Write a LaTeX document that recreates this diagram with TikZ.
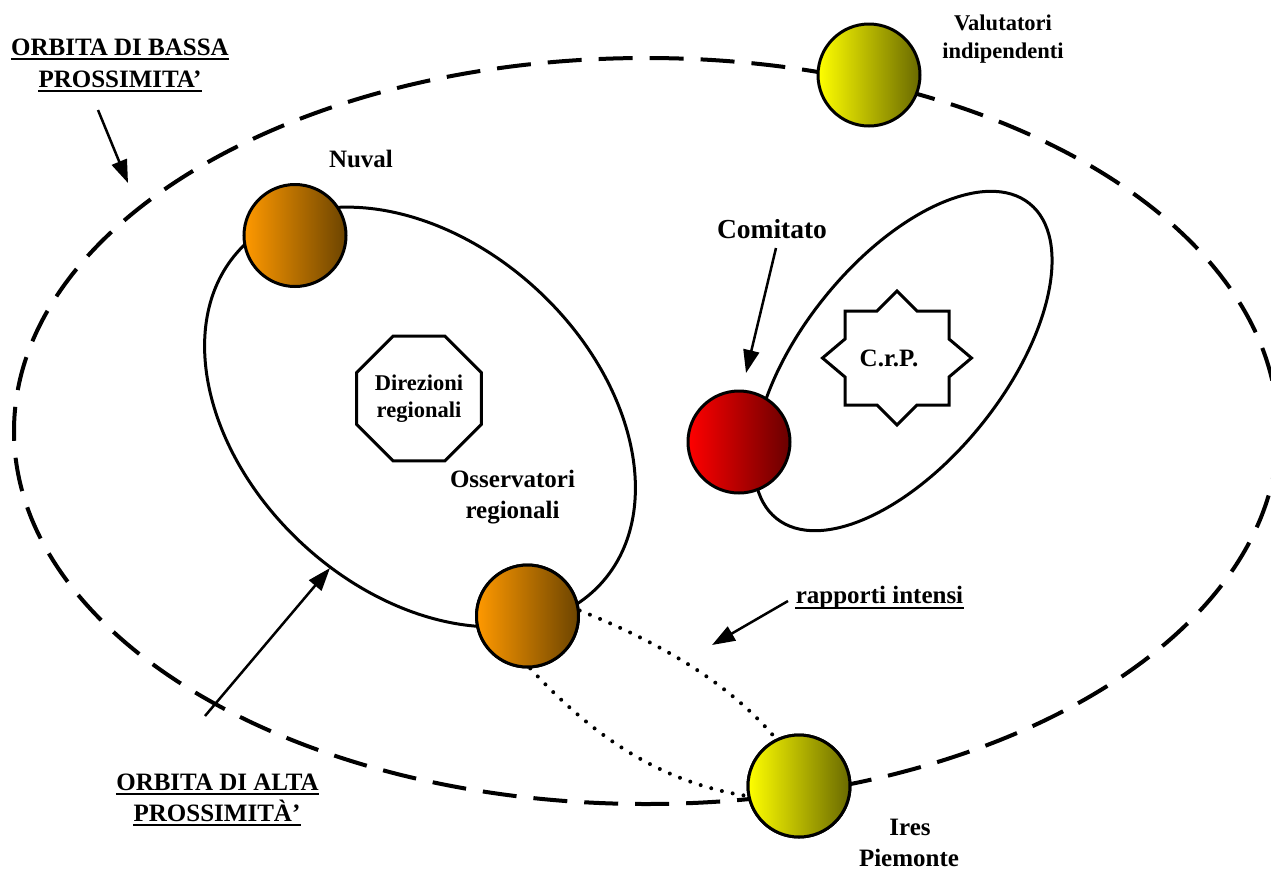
\documentclass[tikz,border=0pt]{standalone}
\usepackage{fontspec}
\setmainfont{Liberation Serif}
\usetikzlibrary{arrows.meta,shapes.geometric}
\definecolor{orL}{RGB}{255,153,0}
\definecolor{orR}{RGB}{108,68,0}
\definecolor{rdL}{RGB}{255,0,0}
\definecolor{rdR}{RGB}{105,0,0}
\definecolor{yeL}{RGB}{255,255,0}
\definecolor{yeR}{RGB}{105,105,0}
\begin{document}
\begin{tikzpicture}[x=0.5pt,y=-0.5pt,
  lbl/.style={font=\bfseries\fontsize{12.5}{15}\selectfont, inner sep=0pt, anchor=base},
  biglbl/.style={font=\bfseries\fontsize{13.75}{16}\selectfont, inner sep=0pt, anchor=base},
  slbl/.style={font=\bfseries\fontsize{11.25}{13.5}\selectfont, inner sep=0pt, anchor=base},
  orbitlow/.style={line width=2pt, dash pattern=on 17pt off 8.5pt},
  orbithigh/.style={line width=1.5pt},
  ball/.style={circle, draw, line width=1.5pt, minimum size=51pt, inner sep=0pt},
  orangeball/.style={ball, left color=orL, right color=orR},
  redball/.style={ball, left color=rdL, right color=rdR},
  yellowball/.style={ball, left color=yeL, right color=yeR},
  octa/.style={draw, line width=1.5pt, regular polygon, regular polygon sides=8, minimum size=61pt, inner sep=0pt, align=center, font=\bfseries\fontsize{11.25}{13.5}\selectfont},
  starline/.style={line width=1.5pt, line join=miter},
  ptr/.style={line width=1.25pt, -{Triangle[length=11.5pt,width=8pt]}},
  rel/.style={line width=2pt, dash pattern=on 0pt off 5.5pt, line cap=round},
  uline/.style={line width=1pt}
]
\useasboundingbox (0,0) rectangle (1271,869);
\clip (0,0) rectangle (1271,869);

% orbits
\draw[orbitlow] (646,431) ellipse [x radius=316pt, y radius=186.5pt];
\draw[orbithigh, rotate around={-42.8:(420,417)}] (420,417) ellipse [x radius=123pt, y radius=86.5pt];
\draw[orbithigh, rotate around={51.2:(903,361)}] (903,361) ellipse [x radius=101pt, y radius=50.5pt];

% relations (dotted)
\node[orangeball] (oss) at (527.5,616) {};
\node[yellowball] (ires) at (799,786) {};
\draw[rel] (oss.6) .. controls +(70,28) and +(-51,-61) .. (ires.116);
\draw[rel] (oss.-87) .. controls +(60,65) and +(-90,-14) .. (ires.191);
\node[orangeball] at (oss) {};
\node[yellowball] at (ires) {};

% balls
\node[orangeball] (nuval) at (295,235.5) {};
\node[redball] (comit) at (739,442) {};
\node[yellowball] (valut) at (869,75) {};

% octagon
\node[octa] (dir) at (419,398.5) {Direzioni\\regionali};

% star
\draw[starline, shift={(897,358)}] (0,-67) -- (20,-47) -- (52,-47) -- (52,-19) -- (74.5,0) -- (52,19) -- (52,47) -- (20,47) -- (0,67) -- (-20,47) -- (-52,47) -- (-52,19) -- (-74.5,0) -- (-52,-19) -- (-52,-47) -- (-20,-47) -- cycle;
\node[lbl] (crp) at (889,366) {C.r.P.};

% labels
\node[lbl] (tBassa1) at (120,55) {ORBITA DI BASSA};
\node[lbl] (tBassa2) at (120,87) {PROSSIMITA’};
\draw[uline] ([yshift=-2pt]tBassa1.base west) -- ([yshift=-2pt]tBassa1.base east);
\draw[uline] ([yshift=-2pt]tBassa2.base west) -- ([yshift=-2pt]tBassa2.base east);

\node[lbl] (tAlta1) at (217.5,790) {ORBITA DI ALTA};
\node[lbl] (tAlta2) at (217,821) {PROSSIMITÀ’};
\draw[uline] ([yshift=-2pt]tAlta1.base west) -- ([yshift=-2pt]tAlta1.base east);
\draw[uline] ([yshift=-2pt]tAlta2.base west) -- ([yshift=-2pt]tAlta2.base east);

\node[lbl] (tNuval) at (361,167) {Nuval};
\node[biglbl] (tComit) at (772,238) {Comitato};
\node[slbl] (tVal1) at (1003,30) {Valutatori};
\node[slbl] (tVal2) at (1003,58) {indipendenti};
\node[lbl] (tOss1) at (512.5,487) {Osservatori};
\node[lbl] (tOss2) at (512.5,518) {regionali};
\node[lbl] (tRap) at (879.5,603) {rapporti intensi};
\draw[uline] ([yshift=-2.6pt]tRap.base west) -- ([yshift=-2.6pt]tRap.base east);
\node[lbl] (tIres1) at (910,835) {Ires};
\node[lbl] (tIres2) at (909,866) {Piemonte};

% pointers
\coordinate (pB1) at (98,110);
\coordinate (pB2) at (128,183);
\draw[ptr] (pB1) -- (pB2);
\coordinate (pC1) at (776,248);
\coordinate (pC2) at (746,373);
\draw[ptr] (pC1) -- (pC2);
\coordinate (pA1) at (205,716);
\coordinate (pA2) at (330,568);
\draw[ptr] (pA1) -- (pA2);
\coordinate (pR1) at (788,601);
\coordinate (pR2) at (712,645);
\draw[ptr] (pR1) -- (pR2);
\end{tikzpicture}
\end{document}
